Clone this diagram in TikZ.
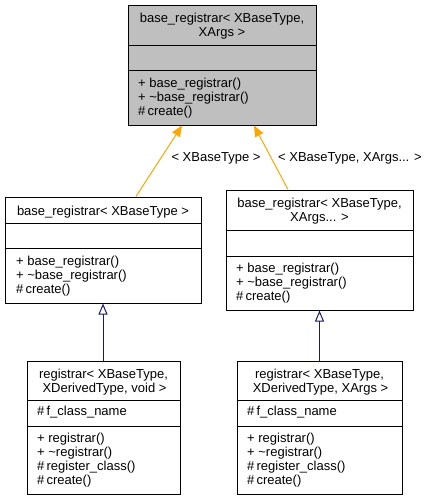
\documentclass[tikz,border=0pt]{standalone}
\usepackage{fontspec}
\setmainfont{Liberation Sans}
\usetikzlibrary{arrows.meta}
\definecolor{edgeorange}{HTML}{FFA500}
\definecolor{edgeblue}{HTML}{191970}
\definecolor{curfill}{HTML}{BFBFBF}
\begin{document}
\begin{tikzpicture}[x=1pt,y=-1pt,
  classbox/.style={draw=black, line width=1pt, inner sep=0pt, fill=white},
  divline/.style={draw=black, line width=1pt},
  ttl/.style={anchor=base, inner sep=0pt, font=\fontsize{13}{14}\selectfont},
  mem/.style={anchor=base west, inner sep=0pt, font=\fontsize{13}{14}\selectfont},
  tmpledge/.style={draw=edgeorange, line width=1pt, -{Triangle[length=11pt,width=9pt]}},
  inhedge/.style={draw=edgeblue, line width=1pt, -{Triangle[open,length=11pt,width=9pt,fill=white]}}]
\useasboundingbox (0,0) rectangle (433,501);

% ---------- A: base_registrar< XBaseType, XArgs >
\node[classbox, fill=curfill, minimum width=188pt, minimum height=120pt] (A) at (222,65) {};
\draw[divline] (A.west |- 0,45) -- (A.east |- 0,45);
\draw[divline] (A.west |- 0,70) -- (A.east |- 0,70);
\node[ttl] (A1) at (222,22.5) {base\_registrar< XBaseType,};
\node[ttl] (A2) at (222,36.5) {XArgs >};
\node[mem] (A3) at (138,87) {+ base\_registrar()};
\node[mem] (A4) at (138,101) {+ \textasciitilde base\_registrar()};
\node[mem] (A5) at (138,115) {\#\,create()};

% ---------- B: base_registrar< XBaseType >
\node[classbox, minimum width=196pt, minimum height=106pt] (B) at (103,250) {};
\draw[divline] (B.west |- 0,223) -- (B.east |- 0,223);
\draw[divline] (B.west |- 0,248) -- (B.east |- 0,248);
\node[ttl] (B1) at (103,215) {base\_registrar< XBaseType >};
\node[mem] (B3) at (16,265) {+ base\_registrar()};
\node[mem] (B4) at (16,279) {+ \textasciitilde base\_registrar()};
\node[mem] (B5) at (16,293) {\#\,create()};

% ---------- C: base_registrar< XBaseType, XArgs... >
\node[classbox, minimum width=187pt, minimum height=120pt] (C) at (319.5,250) {};
\draw[divline] (C.west |- 0,230) -- (C.east |- 0,230);
\draw[divline] (C.west |- 0,256) -- (C.east |- 0,256);
\node[ttl] (C1) at (319.5,207.5) {base\_registrar< XBaseType,};
\node[ttl] (C2) at (319.5,221.5) {XArgs... >};
\node[mem] (C3) at (236,272) {+ base\_registrar()};
\node[mem] (C4) at (236,286) {+ \textasciitilde base\_registrar()};
\node[mem] (C5) at (236,300) {\#\,create()};

% ---------- D: registrar< XBaseType, XDerivedType, void >
\node[classbox, minimum width=153pt, minimum height=133pt] (D) at (103.5,427.5) {};
\draw[divline] (D.west |- 0,400) -- (D.east |- 0,400);
\draw[divline] (D.west |- 0,426) -- (D.east |- 0,426);
\node[ttl] (D1) at (103.5,378) {registrar< XBaseType,};
\node[ttl] (D2) at (104.5,392) {XDerivedType, void >};
\node[mem] (D3) at (37,415.5) {\#\,f\_class\_name};
\node[mem] (D4) at (37,442) {+ registrar()};
\node[mem] (D5) at (37,456) {+ \textasciitilde registrar()};
\node[mem] (D6) at (37,470) {\#\,register\_class()};
\node[mem] (D7) at (37,484) {\#\,create()};

% ---------- E: registrar< XBaseType, XDerivedType, XArgs >
\node[classbox, minimum width=165pt, minimum height=133pt] (E) at (319.5,427.5) {};
\draw[divline] (E.west |- 0,400) -- (E.east |- 0,400);
\draw[divline] (E.west |- 0,426) -- (E.east |- 0,426);
\node[ttl] (E1) at (319.5,378) {registrar< XBaseType,};
\node[ttl] (E2) at (320.5,392) {XDerivedType, XArgs >};
\node[mem] (E3) at (247,415.5) {\#\,f\_class\_name};
\node[mem] (E4) at (247,442) {+ registrar()};
\node[mem] (E5) at (247,456) {+ \textasciitilde registrar()};
\node[mem] (E6) at (247,470) {\#\,register\_class()};
\node[mem] (E7) at (247,484) {\#\,create()};

% ---------- connectors
\draw[tmpledge] ([xshift=33pt]B.north) -- ([xshift=-40pt]A.south);
\draw[tmpledge] ([xshift=-31.5pt]C.north) -- ([xshift=32pt]A.south);
\node[ttl] (L1) at (216,161) {< XBaseType >};
\node[mem] (L2) at (278,161) {< XBaseType, XArgs... >};

\draw[inhedge] (D.north -| 103,0) -- (B.south -| 103,0);
\draw[inhedge] (E.north) -- (C.south);
\end{tikzpicture}
\end{document}
